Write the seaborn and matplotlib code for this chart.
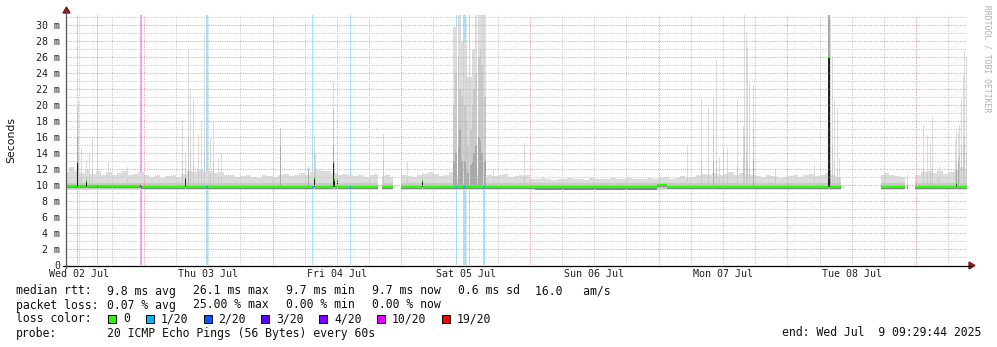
import numpy as np
import pandas as pd
import matplotlib
matplotlib.use("Agg")
import matplotlib.pyplot as plt
import seaborn as sns
from matplotlib.lines import Line2D
from matplotlib.patches import Polygon, Rectangle

# ---------------- data ----------------
T_START = 9.4956      # hours after Wed 02 Jul 00:00 (09:29:44)
T_END = 177.4956      # Wed 09 Jul 09:29:44
N_STEPS = 901

day_tick_hours = [12, 36, 60, 84, 108, 132, 156]
day_labels = ["Wed 02 Jul", "Thu 03 Jul", "Fri 04 Jul", "Sat 05 Jul",
              "Sun 06 Jul", "Mon 07 Jul", "Tue 08 Jul"]
y_tick_values = list(range(0, 31, 2))
y_tick_labels = ["0"] + [f"{v} m" for v in range(2, 31, 2)]

# upper edge of the light smoke, hour by hour (h = 9 .. 177), ms
base_top_hourly = [
    11.6, 12.2, 11.8, 11.5, 11.9, 11.4, 11.7, 11.3, 11.6, 11.2, 11.5, 11.8, 11.3, 11.4, 11.6,
    11.2, 11.0, 11.3, 10.9, 11.1, 11.2, 11.0, 11.4, 11.8, 11.6, 11.9, 11.7, 11.8, 11.5, 11.6, 11.3, 11.2, 11.0, 11.1, 11.3, 11.0, 10.9, 11.2, 11.1,
    11.0, 11.2, 11.4, 11.1, 11.3, 11.5, 11.2, 11.6, 11.9, 11.7, 11.8, 11.5, 11.3, 11.4, 11.2, 11.1, 11.3, 11.0, 11.2, 11.4, 11.1, 11.3, 11.0, 11.2,
    11.3, 11.1, 11.0, 11.2, 11.4, 11.6, 11.4, 11.1, 11.3, 11.6, 11.2, 11.4, 11.3, 11.1, 11.2, 11.0, 11.3, 11.1, 11.2, 11.4, 11.0, 11.1, 11.2, 11.3,
    10.8, 10.7, 10.9, 10.8, 10.6, 10.7, 10.8, 10.9, 10.7, 10.8, 10.6, 10.9, 10.8, 10.7, 10.8, 10.9, 10.7, 10.8, 10.9, 10.7, 10.8, 10.7, 10.9, 10.8,
    10.9, 11.0, 10.8, 10.9, 11.1, 10.9, 11.0, 11.2, 11.4, 11.3, 11.5, 11.2, 11.4, 11.6, 11.3, 11.5, 11.4, 11.2, 11.1, 11.0, 11.2, 11.1, 10.9, 11.0,
    11.1, 11.3, 11.0, 11.2, 11.4, 11.1, 11.3, 11.5, 11.2, 11.0, 11.1, 11.2, 11.1, 11.0, 11.2, 11.4, 11.6, 11.3, 11.5, 11.2, 11.1, 11.0, 11.2, 11.3,
    11.3, 11.6, 11.8, 11.5, 11.7, 11.4, 11.6, 11.9, 12.2, 12.0,
]

# median rtt baseline segments (hours, ms)
median_seg_start = [9.4, 23.4, 96.9, 119.7, 121.6]
median_seg_end = [23.4, 96.9, 119.7, 121.6, 177.6]
median_seg_value = [9.88, 9.78, 9.72, 10.02, 9.75]

# single-interval spikes: hour, max, upper-quartile, inner core, median (nan = baseline)
nan = float("nan")
spike_hour = [11.55, 11.74, 12.42, 13.41, 13.97, 14.53, 17.51, 20.87,
              31.31, 31.80, 32.43, 32.62, 33.18, 34.11, 34.85, 35.41, 36.48, 37.09, 37.84, 38.58,
              49.53, 54.62, 55.83, 56.00, 59.34, 59.65, 60.16, 68.66, 73.26, 76.06,
              89.30, 95.08,
              125.47, 127.90, 129.26, 130.19, 130.74, 131.43, 132.18, 132.80, 134.66, 135.78,
              136.10, 136.29, 136.60, 136.85, 137.65, 141.88,
              149.15, 151.63, 151.82, 152.13, 152.45, 152.88, 153.38, 153.81,
              169.35, 170.16, 170.72, 171.02, 171.95, 172.38, 175.26, 175.58, 175.87,
              176.19, 176.50, 176.80, 177.12, 177.40]
spike_max = [25.0, 20.5, 14.8, 13.0, 14.0, 15.9, 12.9, 12.2,
             18.1, 14.0, 26.9, 22.0, 20.6, 16.4, 18.0, 28.7, 15.9, 18.0, 13.4, 14.0,
             17.1, 12.3, 16.25, 14.0, 22.9, 13.0, 12.7, 16.4, 12.9, 11.5,
             12.0, 15.2,
             15.0, 20.8, 19.6, 20.9, 25.6, 13.5, 14.6, 14.6, 20.8, 17.4,
             31.25, 29.0, 27.1, 22.9, 22.6, 12.0,
             12.4, 31.2, 31.2, 30.8, 25.9, 20.6, 19.6, 13.4,
             17.5, 16.3, 15.3, 18.5, 11.8, 12.3, 15.6, 16.7, 16.5,
             17.5, 20.8, 23.75, 26.7, 26.0]
spike_q75 = [19.8, 14.0, 11.5, 11.0, 11.2, 12.0, 10.8, 10.8,
             13.0, 12.0, 16.0, 14.0, 13.0, 11.5, 12.0, 14.0, 11.5, 13.0, 11.0, 11.0,
             17.1, 12.3, 14.0, 12.0, 19.4, 11.5, 11.5, 13.0, 11.0, 11.0,
             10.8, 11.0,
             11.0, 13.0, 12.0, 16.2, 13.0, 11.0, 11.5, 11.5, 12.5, 13.5,
             16.0, 14.0, 13.0, 12.0, 17.0, 11.0,
             11.0, 31.2, 31.2, 18.0, 15.0, 13.0, 12.0, 11.0,
             12.0, 11.5, 11.5, 12.0, 10.8, 11.0, 11.5, 13.0, 13.5,
             14.0, 15.0, 15.0, 16.0, 14.0]
spike_core = [16.0, nan, nan, nan, nan, nan, nan, nan,
              nan, nan, 12.0, nan, nan, nan, nan, nan, nan, nan, nan, nan,
              15.0, 12.0, nan, nan, 15.0, nan, nan, nan, nan, nan,
              nan, nan,
              nan, nan, nan, 13.0, nan, nan, nan, nan, nan, nan,
              nan, nan, nan, nan, 13.0, nan,
              nan, 31.2, 31.2, 12.0, nan, nan, nan, nan,
              nan, nan, nan, nan, nan, nan, nan, 12.0, 13.0,
              nan, nan, nan, nan, nan]
spike_median = [12.9, nan, nan, 10.5, nan, nan, nan, nan,
                nan, 10.9, nan, nan, nan, nan, nan, nan, nan, nan, nan, nan,
                nan, nan, 10.9, nan, 12.9, 10.6, 10.6, nan, nan, 10.5,
                nan, nan,
                nan, nan, nan, nan, nan, nan, nan, nan, nan, nan,
                nan, nan, nan, nan, nan, nan,
                nan, 26.0, 26.0, nan, nan, nan, nan, nan,
                nan, nan, nan, nan, nan, nan, nan, 10.3, nan,
                nan, nan, nan, nan, nan]

# Saturday burst (two intervals per entry)
burst_hour = [81.84, 82.21, 82.59, 82.96, 83.33, 83.71, 84.08, 84.45,
              84.83, 85.20, 85.57, 85.94, 86.32, 86.69, 87.06, 87.44]
burst_max = [29.8, 29.8, 31.3, 31.3, 27.9, 27.9, 26.9, 23.5,
             23.5, 27.0, 27.0, 31.3, 31.3, 31.3, 31.3, 31.3]
burst_q75 = [20.0, 24.0, 26.0, 22.0, 21.0, 20.0, 18.0, 15.0,
             17.0, 20.0, 22.0, 24.0, 26.0, 27.0, 25.0, 21.0]
burst_core = [13.0, 14.0, 15.0, 17.0, 13.0, 13.0, 12.0, 11.5,
              12.5, 13.0, 14.0, 15.0, 16.0, 15.5, 14.0, 13.0]

# packet-loss events: hour, loss class, number of intervals
loss_hour = [11.55, 15.46, 23.30, 35.60, 55.50, 62.50, 82.34, 83.65, 84.77, 87.43]
loss_class = ["1/20", "1/20", "10/20", "1/20", "1/20", "1/20", "1/20", "1/20", "1/20", "1/20"]
loss_width = [1, 1, 2, 2, 1, 1, 1, 3, 1, 2]

# periods without data (hours)
gap_start = [67.61, 70.52, 153.99, 165.93, 166.50]
gap_end = [68.36, 71.90, 161.45, 166.30, 167.80]

loss_names = ["0", "1/20", "2/20", "3/20", "4/20", "10/20", "19/20"]
loss_colors = ["#26ff00", "#00b8ff", "#0059ff", "#5e00ff", "#7e00ff", "#dd00ff", "#ff0000"]
loss_bg = {"1/20": "#a6e2fb", "10/20": "#eba6f0"}

# ---------------- build per-interval series ----------------
dt = (T_END - T_START) / N_STEPS
edges = T_START + np.arange(N_STEPS + 1) * dt
centers = edges[:-1] + dt / 2
hidx = np.clip(np.floor(centers).astype(int) - 9, 0, len(base_top_hourly) - 1)

top1 = np.array(base_top_hourly, dtype=float)[hidx]
lo1 = np.full(N_STEPS, 9.35)
top2 = np.full(N_STEPS, 10.3)
lo2 = np.full(N_STEPS, 9.45)
top3 = np.full(N_STEPS, np.nan)
med = np.full(N_STEPS, np.nan)
for s, e, v in zip(median_seg_start, median_seg_end, median_seg_value):
    med[(centers >= s) & (centers < e)] = v
loss = ["0"] * N_STEPS


def idx_of(h):
    return int(np.clip((h - T_START) / dt, 0, N_STEPS - 1))


for h, mx, q, c, m in zip(spike_hour, spike_max, spike_q75, spike_core, spike_median):
    i = idx_of(h)
    top1[i] = max(top1[i], mx)
    top2[i] = max(top2[i], q)
    if not np.isnan(c):
        top3[i] = c
    if not np.isnan(m):
        med[i] = m
for h, mx, q, c in zip(burst_hour, burst_max, burst_q75, burst_core):
    for i in (idx_of(h), min(idx_of(h) + 1, N_STEPS - 1)):
        top1[i] = mx
        top2[i] = q
        top3[i] = c
for h, cl, w in zip(loss_hour, loss_class, loss_width):
    i = idx_of(h)
    for k in range(i, min(i + w, N_STEPS)):
        loss[k] = cl

gap = np.zeros(N_STEPS, bool)
for s, e in zip(gap_start, gap_end):
    gap |= (centers >= s) & (centers < e)
for arr in (top1, lo1, top2, lo2, top3, med):
    arr[gap] = np.nan


# ---------------- figure ----------------
sns.set_theme(style="white")
plt.rcParams["font.family"] = ["DejaVu Sans Mono", "DejaVu Sans"]

W, H = 997, 347
fig = plt.figure(figsize=(W / 100, H / 100), dpi=100)
fig.patch.set_facecolor("white")
L, R, T, B = 66, 967, 15, 265
ax = fig.add_axes([L / W, 1 - B / H, (R - L) / W, (B - T) / H])
ax.set_facecolor("white")


def smoke(lo, hi, color, z):
    ok = ~np.isnan(lo) & ~np.isnan(hi) & (hi > lo)
    ax.bar(edges[:-1][ok], (hi - lo)[ok], bottom=lo[ok], width=dt * 1.06, align="edge",
           color=color, linewidth=0, zorder=z)


# loss background bars
for h, cl, w in zip(loss_hour, loss_class, loss_width):
    i = idx_of(h)
    ax.axvspan(edges[i], edges[min(i + w, N_STEPS)], color=loss_bg[cl], lw=0, zorder=0.5)

# smoke layers
high = med > 10.2
smoke(lo1, top1, "#dcdcdc", 1.0)
smoke(lo2, top2, "#c9c9c9", 1.1)
smoke(np.where(np.isnan(top3), np.nan, 9.5), top3, "#a9a9a9", 1.2)
smoke(med - 0.3, med - 0.05, "#8a8090", 1.3)
smoke(np.where(high, 9.8, np.nan), np.where(high, med, np.nan), "#1e1e1e", 1.4)

# grid (drawn over the smoke, like rrdtool)
dot = dict(lw=0.75, linestyle=(0, (1, 1.2)), zorder=2)
for v in range(1, 32):
    ax.axhline(v, color="#e6a0a0" if v % 2 == 0 else "#c8c8c8", **dot)
for hh in range(12, 178, 6):
    ax.axvline(hh, color="#e6a0a0" if hh % 24 == 0 else "#c8c8c8", **dot)

# median rtt: one short horizontal segment per interval, coloured by loss
okm = ~np.isnan(med)
seg = pd.DataFrame({"x0": edges[:-1][okm], "x1": edges[1:][okm], "median": med[okm],
                    "loss": np.array(loss, dtype=object)[okm]})
pal = dict(zip(loss_names, loss_colors))
green = seg[seg["loss"] == "0"]
ax.hlines(green["median"].to_numpy(), green["x0"].to_numpy(), green["x1"].to_numpy(),
          colors=pal["0"], lw=1.6, zorder=3)
lossy = seg[seg["loss"] != "0"]
ax.hlines(lossy["median"].to_numpy(), lossy["x0"].to_numpy(), lossy["x1"].to_numpy(),
          colors=[pal[v] for v in lossy["loss"]], lw=1.6, zorder=3.5)

ax.set_xlim(T_START, T_END)
ax.set_ylim(0, 31.25)

# ticks
ax.set_yticks(y_tick_values)
ax.set_yticklabels(y_tick_labels)
ax.set_xticks(day_tick_hours)
ax.set_xticklabels(day_labels)
ax.tick_params(axis="y", length=0, pad=4.3, labelsize=7.2, labelcolor="#222222")
ax.tick_params(axis="x", length=0, pad=3.0, labelsize=7.2, labelcolor="#222222")
ax.set_xlabel("")
ax.set_ylabel("")
sns.despine(ax=ax, left=True, bottom=True)


def fp(x, y):
    return (x / W, 1 - y / H)


# axes lines with arrows
fig.add_artist(Line2D([fp(63, 0)[0], fp(971, 0)[0]], [fp(0, 265.5)[1]] * 2, color="black", lw=0.9))
fig.add_artist(Line2D([fp(66, 0)[0]] * 2, [fp(0, 268)[1], fp(0, 11)[1]], color="#555555", lw=0.9))
fig.add_artist(Polygon([fp(969, 262), fp(975, 265.5), fp(969, 269)], closed=True,
                       color="#8b1a1a", transform=fig.transFigure))
fig.add_artist(Polygon([fp(63, 13), fp(66.5, 7), fp(70, 13)], closed=True,
                       color="#8b1a1a", transform=fig.transFigure))

# labels
fig.text(*fp(11, 140), "Seconds", rotation=90, ha="center", va="center", fontsize=7.8,
         family=["DejaVu Sans"], color="#111111")
fig.text(*fp(987, 5), "RRDTOOL / TOBI OETIKER", rotation=270, ha="center", va="top",
         fontsize=5.8, color="#b0b0b0")

fs = 8.3
tc = "#111111"
fig.text(*fp(16, 291), "median rtt:", fontsize=fs, va="center", color=tc)
fig.text(*fp(107, 291), "9.8 ms avg", fontsize=fs, va="center", color=tc)
fig.text(*fp(193, 291), "26.1 ms max", fontsize=fs, va="center", color=tc)
fig.text(*fp(286, 291), "9.7 ms min", fontsize=fs, va="center", color=tc)
fig.text(*fp(372, 291), "9.7 ms now", fontsize=fs, va="center", color=tc)
fig.text(*fp(458, 291), "0.6 ms sd", fontsize=fs, va="center", color=tc)
fig.text(*fp(535, 291), "16.0   am/s", fontsize=fs, va="center", color=tc)

fig.text(*fp(16, 305), "packet loss:", fontsize=fs, va="center", color=tc)
fig.text(*fp(107, 305), "0.07 % avg", fontsize=fs, va="center", color=tc)
fig.text(*fp(193, 305), "25.00 % max", fontsize=fs, va="center", color=tc)
fig.text(*fp(286, 305), "0.00 % min", fontsize=fs, va="center", color=tc)
fig.text(*fp(372, 305), "0.00 % now", fontsize=fs, va="center", color=tc)

fig.text(*fp(16, 319), "loss color:", fontsize=fs, va="center", color=tc)
sq_x = [108, 146, 203.5, 261, 319, 377, 442]
for x, name, col in zip(sq_x, loss_names, loss_colors):
    x0, y0 = fp(x, 323)
    fig.add_artist(Rectangle((x0, y0), 8 / W, 8 / H, facecolor=col, edgecolor="black",
                             lw=0.7, transform=fig.transFigure))
    fig.text(*fp(x + 15, 319), name, fontsize=fs, va="center", color=tc)

fig.text(*fp(16, 333), "probe:", fontsize=fs, va="center", color=tc)
fig.text(*fp(107, 333), "20 ICMP Echo Pings (56 Bytes) every 60s", fontsize=fs, va="center", color=tc)
fig.text(*fp(981, 333), "end: Wed Jul  9 09:29:44 2025", fontsize=fs, va="center", ha="right", color=tc)

fig.savefig("out.png", dpi=100, facecolor="white")
